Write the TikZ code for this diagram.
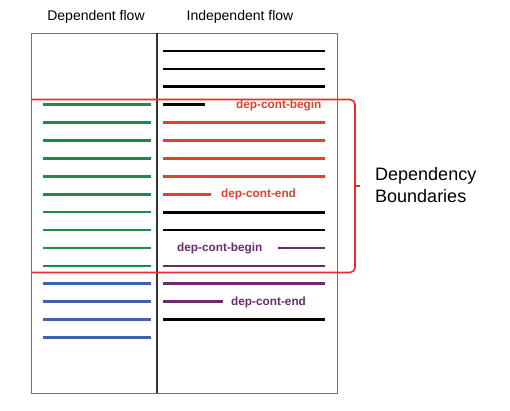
\documentclass[tikz,border=0pt]{standalone}
\usepackage{fontspec}
\setmainfont{Liberation Sans}
\definecolor{dgreen}{HTML}{1E8A4A}
\definecolor{lred}{HTML}{D9432F}
\definecolor{bred}{HTML}{EE2A2F}
\definecolor{dpurple}{HTML}{6B2C6E}
\definecolor{dblue}{HTML}{4060B0}
\definecolor{boxgray}{HTML}{707070}
\tikzset{
  flow/.style={line width=2.6pt},
  blk/.style={flow, black, line width=2.8pt},
  lbl/.style={font=\fontsize{11.8}{13}\selectfont\bfseries, inner sep=0pt, anchor=base west},
  hdr/.style={font=\fontsize{14}{16}\selectfont, inner sep=0pt, anchor=base},
}
\begin{document}
\begin{tikzpicture}[x=1pt,y=-1pt]
\useasboundingbox (0,0) rectangle (510,410);
\fill[white] (0,0) rectangle (510,410);
% headers
\node[hdr] (hdep) at (96,20) {Dependent flow};
\node[hdr] (hind) at (240,20) {Independent flow};
% box
\draw[boxgray, line width=1pt] (31,33) rectangle (337,393);
\draw[black!80, line width=1.1pt] (157,33) -- (157,393);
% left column
\foreach \k in {3,...,12} \draw[flow, dgreen] (43,{51+17.9*\k}) -- (151,{51+17.9*\k});
\foreach \k in {13,...,16} \draw[flow, dblue] (43,{51+17.9*\k}) -- (151,{51+17.9*\k});
% right column
\foreach \k in {0,1,2,9,10,15} \draw[blk] (163,{51+17.9*\k}) -- (325,{51+17.9*\k});
\draw[blk] (163,{51+17.9*3}) -- (205,{51+17.9*3});
\foreach \k in {4,...,7} \draw[flow, lred] (163,{51+17.9*\k}) -- (325,{51+17.9*\k});
\draw[flow, lred] (163,{51+17.9*8}) -- (211,{51+17.9*8});
\draw[flow, dpurple] (278,{51+17.9*11}) -- (325,{51+17.9*11});
\foreach \k in {12,13} \draw[flow, dpurple] (163,{51+17.9*\k}) -- (325,{51+17.9*\k});
\draw[flow, dpurple] (163,{51+17.9*14}) -- (223,{51+17.9*14});
% labels
\node[lbl, lred] (l1) at (236,{51+17.9*3+3.6}) {dep-cont-begin};
\node[lbl, lred] (l2) at (221,{51+17.9*8+3.6}) {dep-cont-end};
\node[lbl, dpurple] (l3) at (177,{51+17.9*11+3.6}) {dep-cont-begin};
\node[lbl, dpurple] (l4) at (231,{51+17.9*14+3.6}) {dep-cont-end};
% bracket
\draw[bred, line width=1.6pt, rounded corners=5pt] (31,99.5) -- (355,99.5) -- (355,272.5) -- (31,272.5);
\draw[bred, line width=1.6pt] (355,186) -- (360,186);
\node[font=\fontsize{18}{22}\selectfont, align=left, anchor=north west, inner sep=0pt] (db) at (375,167.5) {Dependency\\Boundaries};
\end{tikzpicture}
\end{document}
